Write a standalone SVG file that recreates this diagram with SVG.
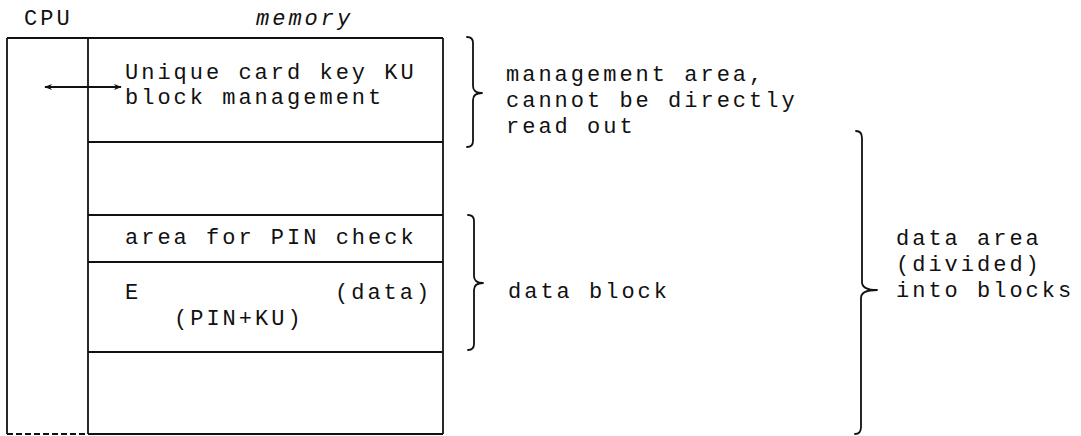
<svg xmlns="http://www.w3.org/2000/svg" width="1081" height="436" viewBox="0 0 1081 436">
<style>
text{font-family:"Liberation Mono","DejaVu Sans Mono",monospace;font-size:22px;letter-spacing:3px;fill:#111}
.ln{stroke:#111;stroke-width:1.8;fill:none}
.br{stroke:#111;stroke-width:1.8;fill:none;stroke-linejoin:round;stroke-linecap:round}
</style>
<defs>
<marker id="ah" viewBox="0 0 10 10" refX="9" refY="5" markerWidth="8" markerHeight="8" orient="auto-start-reverse" markerUnits="userSpaceOnUse">
<path d="M0,1 L10,5 L0,9 L3,5 Z" fill="#111"/>
</marker>
</defs>
<rect width="1081" height="436" fill="#fff"/>
<g id="labels-top">
<text x="24" y="25">CPU</text>
<text x="256" y="25" font-style="italic">memory</text>
</g>
<g id="cpu">
<line class="ln" x1="7" y1="38" x2="88" y2="38"/>
<line class="ln" x1="7" y1="38" x2="7" y2="434"/>
<line class="ln" x1="7" y1="434" x2="88" y2="434" stroke-dasharray="6,3" stroke-width="1.2"/>
</g>
<g id="memory">
<line class="ln" x1="88" y1="38" x2="443" y2="38"/>
<line class="ln" x1="88" y1="38" x2="88" y2="434"/>
<line class="ln" x1="443" y1="38" x2="443" y2="434"/>
<line class="ln" x1="88" y1="434" x2="443" y2="434"/>
</g>
<g id="mgmt-block">
<line class="ln" x1="88" y1="142" x2="443" y2="142"/>
<text x="125" y="79">Unique card key KU</text>
<text x="125" y="104">block management</text>
</g>
<g id="empty-block-1">
<line class="ln" x1="88" y1="215" x2="443" y2="215"/>
</g>
<g id="pin-area">
<line class="ln" x1="88" y1="262" x2="443" y2="262"/>
<text x="125" y="244">area for PIN check</text>
</g>
<g id="data-area">
<line class="ln" x1="88" y1="352" x2="443" y2="352"/>
<text x="125" y="299">E</text>
<text x="335" y="299">(data)</text>
<text x="174" y="325">(PIN+KU)</text>
</g>
<g id="connectors">
<line class="ln" x1="45" y1="87" x2="121" y2="87" stroke-width="1.6" marker-start="url(#ah)" marker-end="url(#ah)"/>
</g>
<g id="brace-management">
<path class="br" d="M467,37 Q473,37 473,43 V86 Q473,93 482,93 Q473,93 473,100 V141 Q473,147 467,147"/>
<text x="506" y="81">management area,</text>
<text x="506" y="107">cannot be directly</text>
<text x="506" y="133">read out</text>
</g>
<g id="brace-data-block">
<path class="br" d="M468,215 Q474,215 474,221 V276 Q474,283 483,283 Q474,283 474,290 V344 Q474,350 468,350"/>
<text x="508" y="298">data block</text>
</g>
<g id="brace-data-area">
<path class="br" d="M856,131 Q862,131 862,138 V282 Q862,290 877,290 Q861,290 861,298 V427 Q861,434 855,434"/>
<text x="896" y="245">data area</text>
<text x="896" y="271">(divided)</text>
<text x="896" y="297">into blocks</text>
</g>
</svg>
